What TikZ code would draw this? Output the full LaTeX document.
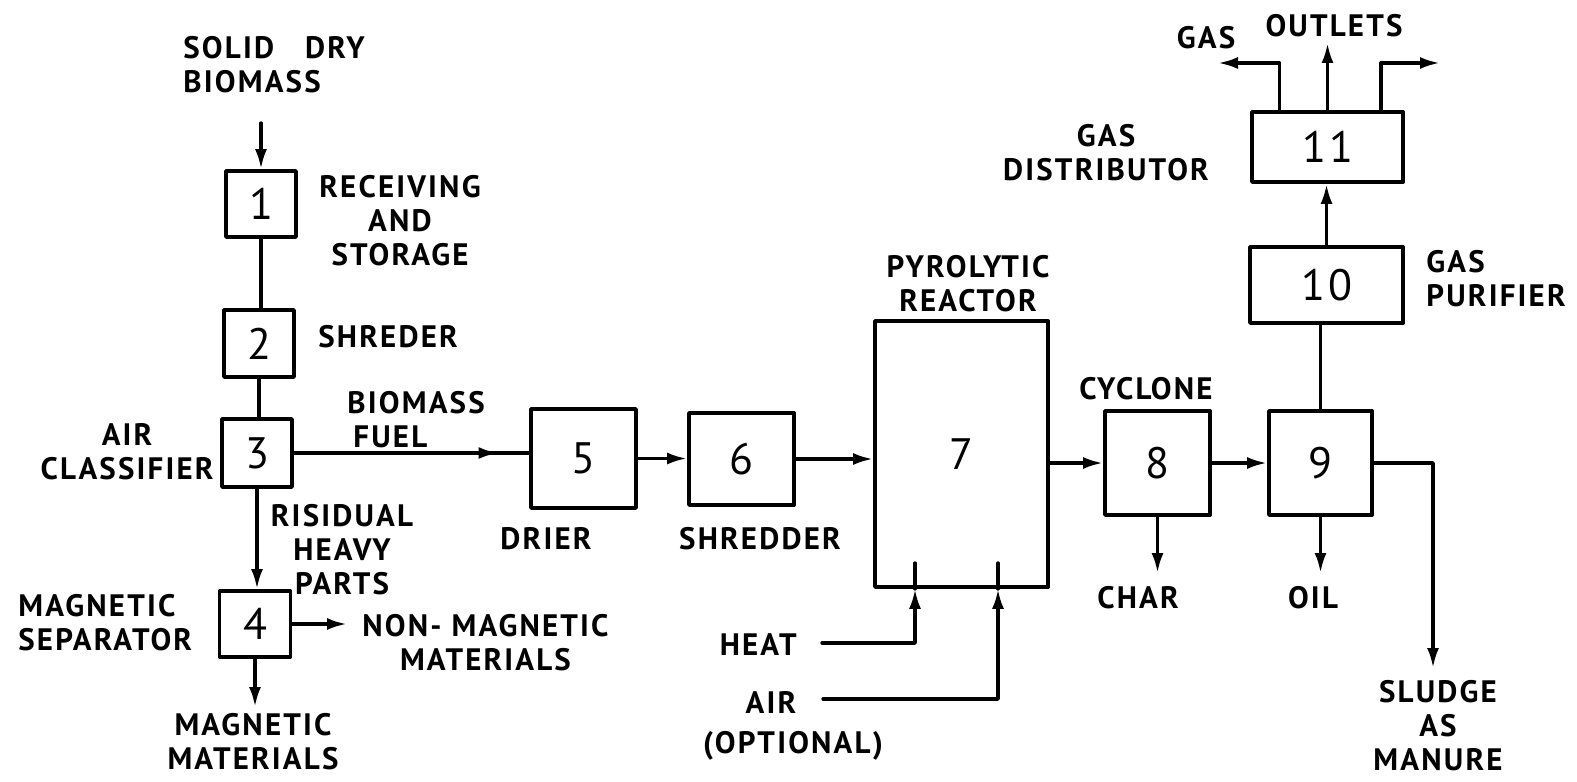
\documentclass[tikz,border=0pt]{standalone}
\usepackage{fontspec}
\setmainfont{PT Sans}[LetterSpace=7]
\usepackage{tikz}
\usetikzlibrary{arrows.meta,decorations.markings}
\tikzset{
  >={Latex[length=10pt,width=6pt]},
  every picture/.style={line cap=round, line join=round},
  lbl/.style={font=\bfseries\fontsize{15.5}{17}\selectfont, inner sep=0pt, align=center},
  unit/.style={draw, line width=1.9pt, inner sep=0pt, font=\fontsize{22}{24}\selectfont},
  feed/.style={line width=1.7pt},
  flow/.style={line width=1.7pt, ->},
  midarrow/.style={postaction={decorate, decoration={markings,
    mark=at position #1 with {\arrow{Latex[length=10pt,width=6pt]}}}}},
}

\begin{document}
\begin{tikzpicture}[x=0.5pt, y=-0.5pt]
\useasboundingbox (0,0) rectangle (1577,781);
% the process units
\node[unit, minimum width=35pt, minimum height=33pt] (u1) at (261,204) {1};
\node[unit, minimum width=35pt, minimum height=33.5pt] (u2) at (259,343.5) {2};
\node[unit, minimum width=35pt, minimum height=34pt] (u3) at (257,453) {3};
\node[unit, minimum width=35.5pt, minimum height=33pt] (u4) at (255,624) {4};
\node[unit, minimum width=52.5pt, minimum height=49.5pt] (u5) at (583.5,458.5) {5};
\node[unit, minimum width=52.5pt, minimum height=46pt] (u6) at (741.5,459) {6};
\node[unit, minimum width=86.5pt, minimum height=133pt] (u7) at (961.5,454) {7};
\node[unit, minimum width=52.5pt, minimum height=52pt] (u8) at (1157.5,463) {8};
\node[unit, minimum width=51.5pt, minimum height=52pt] (u9) at (1320.5,463) {9};
\node[unit, minimum width=76.5pt, minimum height=38pt] (u10) at (1326.5,285) {10};
\node[unit, minimum width=75.5pt, minimum height=35pt] (u11) at (1327.5,147) {11};
% free ends
\coordinate (supply) at (261,123);
\coordinate (nonmag) at (347,624);
\coordinate (magout) at (255,707);
\coordinate (heatin) at (822,643);
\coordinate (heatup) at (915,563);
\coordinate (airin) at (823,699);
\coordinate (airup) at (998,563);
\coordinate (charout) at (1157.5,573);
\coordinate (oilout) at (1320.5,573);
\coordinate (sludgeout) at (1433,668);
\coordinate (gasL) at (1218,63);
\coordinate (gasM) at (1327.5,43);
\coordinate (gasR) at (1440,63);
% left column
\draw[flow] (supply) -- (u1.north);
\draw[feed] (u1.south) -- (u1.south |- u2.north);
\draw[feed] (u2.south) -- (u2.south |- u3.north);
\draw[flow] (u3.south) -- (u3.south |- u4.north);
\draw[flow] (u4.east) -- (nonmag);
\draw[flow] (u4.south) -- (magout);
% main line
\draw[feed, midarrow=0.87] (u3.east) -- (u3.east -| u5.west);
\draw[flow] (u5.east) -- (u5.east -| u6.west);
\draw[flow] (u6.east) -- (u6.east -| u7.west);
\draw[flow] (u7.east |- u8.west) -- (u8.west);
\draw[flow] (u8.east) -- (u8.east -| u9.west);
\draw[flow] (heatin) -| (heatup |- u7.south);
\draw[feed] (heatup |- u7.south) -- (heatup);
\draw[flow] (airin) -| (airup |- u7.south);
\draw[feed] (airup |- u7.south) -- (airup);
\draw[flow] (u8.south) -- (charout);
\draw[flow] (u9.south) -- (oilout);
\draw[flow] (u9.east) -| (sludgeout);
% gas line
\draw[feed] (u9.north) -- (u9.north |- u10.south);
\draw[flow] (u10.north) -- (u10.north |- u11.south);
\draw[flow] ([xshift=-24pt]u11.north) |- (gasL);
\draw[flow] (u11.north) -- (gasM);
\draw[flow] ([xshift=26.75pt]u11.north) |- (gasR);
% labels
\node[lbl, align=left, anchor=west] (feedlbl) at (183,65) {SOLID\quad DRY\\BIOMASS};
\node[lbl] (u1lbl) at (400,220.5) {RECEIVING\\AND\\STORAGE};
\node[lbl, anchor=west] (u2lbl) at (318,337) {SHREDER};
\node[lbl, anchor=east] (u3lbl) at (214,452) {AIR\\CLASSIFIER};
\node[lbl, align=left, anchor=west] (fuellbl) at (347,420) {BIOMASS\\\hspace*{3pt}FUEL};
\node[lbl] (heavylbl) at (342,550) {RISIDUAL\\HEAVY\\PARTS};
\node[lbl, align=left, anchor=west] (u4lbl) at (18,623) {MAGNETIC\\SEPARATOR};
\node[lbl, anchor=west] (nonmaglbl) at (362,643) {NON- MAGNETIC\\MATERIALS};
\node[lbl] (maglbl) at (253,742) {MAGNETIC\\MATERIALS};
\node[lbl] (u5lbl) at (546,539) {DRIER};
\node[lbl] (u6lbl) at (760,539) {SHREDDER};
\node[lbl, anchor=east] (heatlbl) at (797,645) {HEAT};
\node[lbl] (airlbl) at (771,702) {AIR};
\node[lbl] (optlbl) at (793,746) {(OPTIONAL)};
\node[lbl] (u7lbl) at (968,283.5) {PYROLYTIC\\REACTOR};
\node[lbl] (u8lbl) at (1146,389) {CYCLONE};
\node[lbl] (charlbl) at (1138,598) {CHAR};
\node[lbl] (oillbl) at (1313,598) {OIL};
\node[lbl] (sludgelbl) at (1438,726) {SLUDGE\\AS\\MANURE};
\node[lbl] (u11lbl) at (1106,153) {GAS\\DISTRIBUTOR};
\node[lbl, align=left, anchor=west] (u10lbl) at (1426,278.5) {GAS\\PURIFIER};
\node[lbl] (gaslbl) at (1206,38) {GAS};
\node[lbl] (outletlbl) at (1334,26) {OUTLETS};
\end{tikzpicture}
\end{document}
